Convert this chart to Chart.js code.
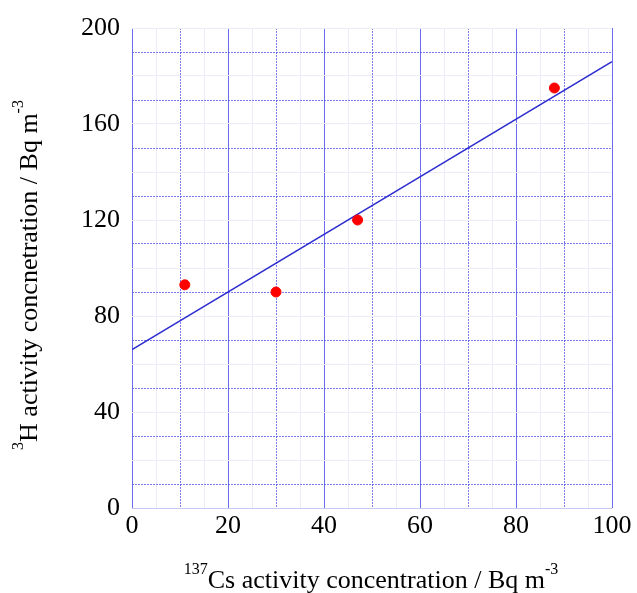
<!DOCTYPE html>
<html>
<head>
<meta charset="utf-8">
<script src="https://cdn.jsdelivr.net/npm/chart.js@4.4.0/dist/chart.umd.min.js"></script>
<style>
  html, body { margin: 0; padding: 0; background: #fff; }
  #wrap { width: 637px; height: 593px; }
</style>
</head>
<body>
<div id="wrap"><canvas id="chart" width="637" height="593"></canvas></div>
<script>
// measured points
const csValues = [11, 30, 47, 88];
const tritiumValues = [93, 90, 120, 175];
// fitted line end points
const fitX = [0, 100];
const fitY = [66, 186];

const xTitle = [['137', true], ['Cs activity concentration / Bq m', false], ['-3', true]];
const yTitle = [['3', true], ['H activity concnetration / Bq m', false], ['-3', true]];

const FONT = '"Liberation Serif", "Times New Roman", serif';
const SOLID = '#6b6bf2';
const DOTTED = 'rgba(80, 80, 235, 0.75)';
const FAINT = '#ececf7';

function drawRich(ctx, parts, size) {
  const sub = Math.round(size * 0.6);
  // measure first so the whole thing can be centred
  let w = 0;
  parts.forEach(([t, sup]) => {
    ctx.font = (sup ? sub : size) + 'px ' + FONT;
    w += ctx.measureText(t).width;
  });
  let x = -w / 2;
  parts.forEach(([t, sup]) => {
    ctx.font = (sup ? sub : size) + 'px ' + FONT;
    ctx.fillText(t, x, sup ? -size * 0.55 : 0);
    x += ctx.measureText(t).width;
  });
}

const axisTitles = {
  id: 'axisTitles',
  afterDraw(chart) {
    const ctx = chart.ctx;
    ctx.save();
    ctx.fillStyle = '#000';
    ctx.textBaseline = 'alphabetic';
    ctx.translate(371, 588);
    drawRich(ctx, xTitle, 26);
    ctx.restore();
    ctx.save();
    ctx.fillStyle = '#000';
    ctx.translate(37, 275);
    ctx.rotate(-Math.PI / 2);
    drawRich(ctx, yTitle, 26);
    ctx.restore();
  }
};

function xGridColor(c) {
  const v = c.tick.value;
  if (v % 20 === 0) return SOLID;
  if (v % 10 === 0) return DOTTED;
  return FAINT;
}
function yGridColor(c) {
  const v = c.tick.value;
  if (v === 0) return '#c8c8f4';
  if (v % 20 === 10) return DOTTED;
  return FAINT;
}

new Chart(document.getElementById('chart'), {
  type: 'scatter',
  data: {
    datasets: [
      {
        type: 'line',
        data: fitX.map((x, i) => ({ x, y: fitY[i] })),
        borderColor: '#2b2bd0',
        borderWidth: 1.5,
        pointRadius: 0,
        fill: false,
        order: 2
      },
      {
        data: csValues.map((x, i) => ({ x, y: tritiumValues[i] })),
        backgroundColor: '#ff0000',
        borderColor: '#ff0000',
        pointRadius: 5,
        order: 1
      }
    ]
  },
  plugins: [axisTitles],
  options: {
    responsive: false,
    animation: false,
    layout: { padding: { left: 0, top: 28, right: 25, bottom: 0 } },
    plugins: { legend: { display: false }, tooltip: { enabled: false } },
    scales: {
      x: {
        type: 'linear',
        min: 0, max: 100,
        afterFit: s => { s.height = 85; },
        ticks: {
          stepSize: 5,
          autoSkip: false,
          maxRotation: 0,
          padding: 3,
          color: '#000',
          font: { family: FONT, size: 26 },
          callback: v => (v % 20 === 0 ? v : '')
        },
        grid: { color: xGridColor, lineWidth: 1, drawTicks: false },
        border: {
          display: false,
          dash: c => (c.tick && c.tick.value % 20 !== 0 && c.tick.value % 10 === 0 ? [2, 1] : [])
        }
      },
      y: {
        type: 'linear',
        min: 0, max: 200,
        afterFit: s => { s.width = 132; },
        ticks: {
          stepSize: 10,
          autoSkip: false,
          padding: 12,
          color: '#000',
          font: { family: FONT, size: 26 },
          callback: v => (v % 40 === 0 ? v : '')
        },
        grid: { color: yGridColor, lineWidth: 1, drawTicks: false },
        border: {
          display: false,
          dash: c => (c.tick && c.tick.value % 20 === 10 ? [2, 1] : [])
        }
      }
    }
  }
});
</script>
</body>
</html>
